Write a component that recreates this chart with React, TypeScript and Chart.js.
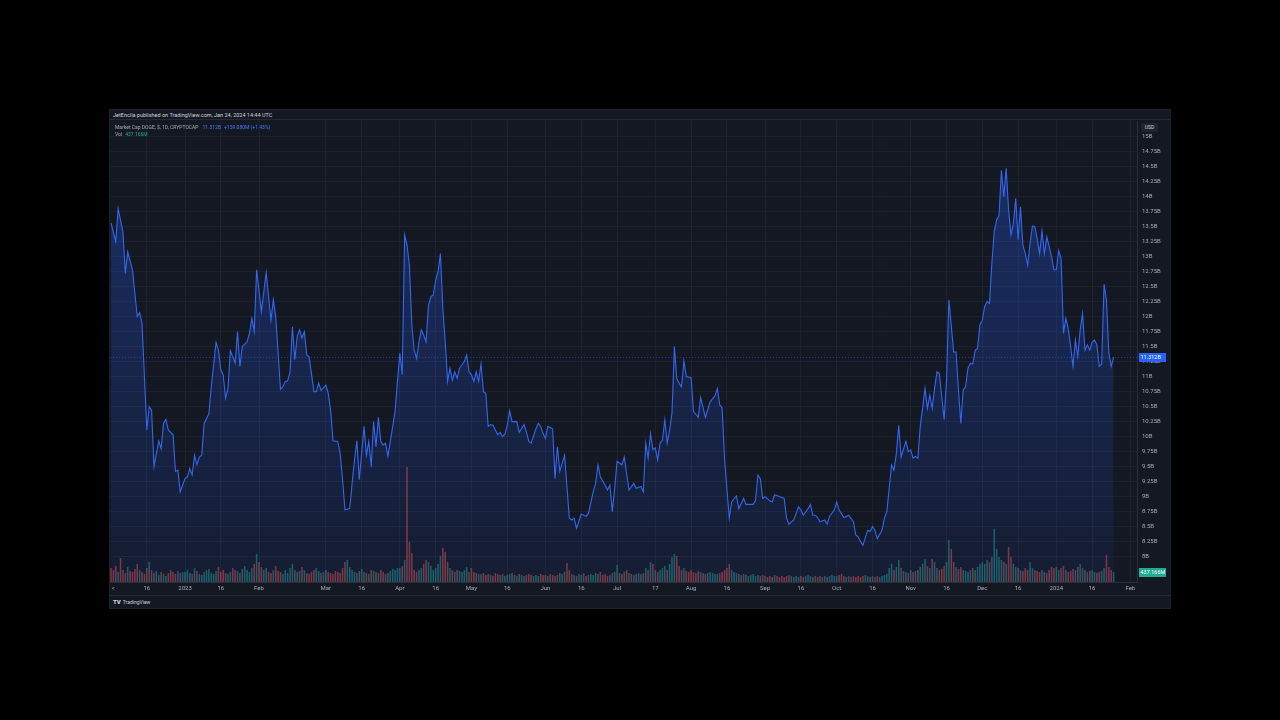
import React, { useEffect, useRef } from "react";
import { Chart, registerables } from "chart.js";

Chart.register(...registerables);

// Day 0 = 2022-12-01 (daily data, DOGE market cap in billions USD)
const pricePoints: [number, number][] = [
  [0, 13.55], [2, 13.24], [3, 13.79], [5, 13.4], [6, 12.71], [7, 13.07], [9, 12.77], [11, 11.99], [12, 12.06], [13, 11.88],
  [15, 10.1], [16, 10.49], [17, 10.43], [18, 9.49], [20, 9.92], [21, 9.79], [22, 10.21], [23, 10.28], [24, 10.1], [26, 10.02],
  [27, 9.41], [28, 9.43], [29, 9.07], [31, 9.29], [32, 9.32], [33, 9.46], [34, 9.35], [35, 9.68], [36, 9.52], [37, 9.65],
  [38, 9.68], [39, 10.21], [41, 10.37], [42, 10.82], [44, 11.56], [45, 11.43], [46, 11.1], [47, 11.02], [48, 10.63], [49, 10.79],
  [50, 11.42], [52, 11.22], [53, 11.74], [54, 11.16], [55, 11.49], [57, 11.57], [58, 11.71], [59, 11.96], [60, 11.74], [61, 12.77],
  [63, 12.07], [65, 12.72], [67, 11.93], [68, 12.27], [69, 11.99], [71, 10.78], [72, 10.82], [73, 10.91], [74, 10.92], [75, 11.07],
  [76, 11.82], [77, 11.27], [78, 11.66], [79, 11.77], [80, 11.63], [81, 11.74], [82, 11.35], [83, 11.32], [85, 10.74], [86, 10.74],
  [87, 10.88], [88, 10.76], [90, 10.85], [91, 10.71], [92, 10.43], [93, 9.92], [95, 9.91], [96, 9.71], [97, 9.27], [98, 8.77],
  [100, 8.79], [101, 9.21], [102, 9.6], [103, 9.92], [104, 9.27], [106, 10.16], [107, 9.68], [108, 9.91], [109, 9.49], [110, 10.24],
  [111, 9.82], [112, 10.31], [113, 9.91], [114, 9.85], [115, 9.88], [116, 9.66], [117, 9.91], [119, 10.41], [120, 10.91], [121, 11.38],
  [122, 11.02], [123, 13.35], [124, 13.18], [125, 12.85], [126, 11.85], [127, 11.43], [128, 11.29], [129, 11.57], [130, 11.77], [131, 11.68],
  [132, 11.57], [133, 12.18], [134, 12.32], [135, 12.35], [136, 12.6], [137, 12.74], [138, 13.04], [139, 12.13], [140, 11.57], [141, 10.91],
  [142, 11.13], [143, 10.93], [144, 11.07], [145, 10.96], [146, 11.13], [148, 11.24], [149, 11.35], [150, 11.07], [151, 11.02], [152, 10.91],
  [153, 11.07], [154, 10.91], [155, 11.2], [156, 10.74], [157, 10.71], [158, 10.16], [159, 10.19], [160, 10.18], [162, 10.02], [163, 10.06],
  [164, 9.99], [165, 10.03], [166, 10.18], [167, 10.42], [168, 10.24], [170, 10.24], [171, 10.06], [173, 10.19], [174, 10.07], [175, 9.91],
  [176, 9.88], [178, 10.12], [179, 10.21], [180, 10.16], [181, 10.04], [182, 9.96], [183, 10.16], [185, 10.12], [186, 9.29], [187, 9.82],
  [188, 9.41], [190, 9.68], [192, 8.63], [193, 8.6], [194, 8.63], [195, 8.46], [197, 8.7], [199, 8.66], [200, 8.71], [202, 9.07],
  [203, 9.21], [204, 9.52], [205, 9.32], [207, 9.18], [208, 9.1], [209, 9.18], [210, 8.74], [211, 9.13], [212, 9.58], [214, 9.52],
  [215, 9.65], [217, 9.1], [219, 9.21], [220, 9.13], [222, 9.16], [223, 9.07], [224, 9.88], [225, 9.63], [226, 10.04], [227, 9.77],
  [228, 9.8], [229, 9.6], [230, 9.88], [231, 9.93], [232, 10.27], [233, 9.88], [234, 10.1], [235, 10.38], [236, 11.49], [237, 10.96],
  [238, 10.88], [239, 10.82], [240, 11.25], [241, 10.99], [243, 10.97], [244, 10.41], [246, 10.31], [247, 10.64], [249, 10.31], [251, 10.57],
  [253, 10.67], [254, 10.79], [255, 10.52], [256, 10.47], [257, 9.63], [259, 8.63], [260, 8.9], [262, 9.0], [263, 8.79], [265, 8.96],
  [266, 8.86], [269, 8.86], [270, 8.92], [271, 9.35], [272, 9.29], [273, 8.96], [274, 8.99], [276, 8.92], [277, 8.9], [278, 9.02],
  [280, 8.99], [282, 8.96], [283, 8.63], [284, 8.53], [286, 8.6], [287, 8.71], [288, 8.82], [289, 8.77], [290, 8.68], [292, 8.79],
  [293, 8.86], [294, 8.68], [295, 8.68], [296, 8.64], [297, 8.57], [299, 8.6], [300, 8.53], [301, 8.66], [303, 8.77], [304, 8.9],
  [305, 8.77], [307, 8.64], [308, 8.66], [309, 8.68], [311, 8.57], [312, 8.35], [313, 8.32], [314, 8.24], [315, 8.18], [317, 8.43],
  [318, 8.41], [319, 8.49], [320, 8.43], [321, 8.29], [323, 8.43], [324, 8.63], [325, 8.74], [327, 9.52], [328, 9.43], [329, 9.71],
  [330, 10.18], [331, 9.65], [333, 9.91], [334, 9.74], [335, 9.77], [336, 9.63], [337, 9.66], [338, 9.63], [339, 10.16], [341, 10.79],
  [342, 10.46], [343, 10.68], [344, 10.46], [345, 10.79], [346, 11.07], [347, 11.04], [349, 10.27], [350, 10.93], [351, 12.27], [353, 11.4],
  [354, 11.4], [355, 10.77], [356, 10.21], [357, 10.77], [358, 10.82], [359, 11.13], [360, 11.21], [361, 11.2], [362, 11.43], [363, 11.46],
  [364, 11.85], [365, 11.93], [366, 12.16], [367, 12.24], [368, 12.21], [369, 12.88], [370, 13.41], [371, 13.6], [372, 13.68], [373, 14.43],
  [374, 13.99], [375, 14.46], [376, 13.77], [377, 13.35], [378, 13.54], [379, 13.96], [380, 13.27], [381, 13.82], [382, 13.18], [383, 13.04],
  [384, 12.85], [385, 13.21], [386, 13.5], [387, 13.49], [388, 13.29], [389, 13.04], [390, 13.42], [391, 13.04], [392, 13.32], [393, 13.16],
  [394, 12.99], [395, 12.77], [396, 12.77], [397, 13.09], [398, 12.96], [399, 11.71], [400, 11.96], [401, 11.79], [402, 11.49], [403, 11.16],
  [404, 11.6], [405, 11.32], [406, 11.77], [407, 12.04], [408, 11.43], [409, 11.52], [410, 11.43], [411, 11.56], [412, 11.6], [413, 11.52],
  [414, 11.16], [415, 11.2], [416, 12.53], [417, 12.27], [418, 11.38], [419, 11.16], [420, 11.312],
];

// Daily volume in millions USD, one array per month
const volDec22 = [610, 520, 700, 440, 1050, 520, 390, 660, 480, 440, 570, 790, 520, 440, 350, 610, 870, 520, 390, 480, 310, 440, 350, 260, 390, 520, 440, 350, 480, 390, 440];
const volJan23 = [440, 520, 390, 350, 610, 480, 350, 310, 440, 520, 570, 390, 350, 480, 660, 440, 520, 390, 350, 440, 610, 520, 480, 390, 570, 700, 520, 440, 610, 790, 1220];
const volFeb23 = [870, 660, 520, 610, 440, 390, 520, 700, 480, 440, 350, 520, 390, 610, 790, 520, 440, 480, 660, 520, 390, 350, 440, 520, 610, 480, 390, 440];
const volMar23 = [520, 440, 390, 350, 480, 440, 390, 610, 870, 960, 660, 520, 440, 390, 480, 570, 440, 390, 350, 520, 480, 440, 390, 520, 440, 350, 390, 480, 570, 520, 610];
const volApr23 = [610, 700, 960, 5030, 1750, 1270, 520, 440, 520, 610, 790, 960, 870, 700, 520, 610, 790, 1140, 1490, 1310, 870, 610, 520, 440, 520, 480, 440, 520, 660, 440];
const volMay23 = [610, 440, 390, 350, 350, 390, 310, 350, 310, 260, 390, 350, 310, 350, 260, 310, 350, 390, 310, 260, 350, 310, 260, 310, 350, 310, 260, 310, 260, 350, 310];
const volJun23 = [310, 260, 350, 310, 260, 310, 390, 350, 440, 830, 520, 350, 310, 260, 350, 310, 390, 260, 310, 350, 310, 390, 350, 440, 310, 350, 260, 310, 390, 440];
const volJul23 = [740, 390, 350, 440, 520, 390, 350, 310, 350, 390, 350, 390, 610, 520, 870, 790, 520, 440, 520, 610, 700, 520, 790, 1090, 1220, 1140, 700, 520, 610, 480, 440];
const volAug23 = [520, 440, 390, 480, 440, 390, 350, 390, 440, 390, 350, 350, 390, 440, 520, 610, 790, 520, 440, 390, 350, 310, 350, 310, 260, 310, 350, 260, 310, 260, 310];
const volSep23 = [260, 220, 260, 220, 310, 260, 220, 260, 220, 260, 310, 260, 220, 260, 220, 260, 220, 260, 310, 260, 220, 260, 220, 260, 220, 260, 220, 260, 310, 260];
const volOct23 = [260, 310, 350, 260, 220, 260, 220, 260, 220, 260, 220, 260, 310, 260, 220, 260, 220, 260, 220, 260, 310, 350, 610, 790, 520, 660, 960, 610, 480, 440, 390];
const volNov23 = [520, 440, 480, 520, 660, 790, 1000, 700, 610, 1000, 870, 610, 520, 570, 700, 870, 1840, 1440, 870, 660, 570, 660, 520, 480, 440, 520, 610, 520, 660, 790];
const volDec23 = [870, 790, 960, 870, 1090, 2320, 1440, 1090, 960, 870, 790, 1530, 1090, 790, 660, 610, 520, 480, 610, 520, 870, 610, 520, 480, 440, 520, 440, 390, 520, 660, 610];
const volJan24 = [660, 520, 610, 700, 520, 440, 480, 570, 520, 660, 790, 610, 520, 440, 480, 520, 440, 390, 440, 480, 610, 1180, 660, 520, 437.166];

const volumes = [
  ...volDec22, ...volJan23, ...volFeb23, ...volMar23, ...volApr23, ...volMay23, ...volJun23,
  ...volJul23, ...volAug23, ...volSep23, ...volOct23, ...volNov23, ...volDec23, ...volJan24,
];

const xTickDays = [1, 15, 31, 46, 62, 90, 105, 121, 136, 151, 166, 182, 197, 212, 228, 243, 258, 274, 289, 304, 319, 335, 350, 365, 380, 396, 411, 427];
const xTickLabels = ["<", "16", "2023", "16", "Feb", "Mar", "16", "Apr", "16", "May", "16", "Jun", "16", "Jul", "17", "Aug", "16", "Sep", "16", "Oct", "16", "Nov", "16", "Dec", "16", "2024", "16", "Feb"];
const yTickValues = [8, 8.25, 8.5, 8.75, 9, 9.25, 9.5, 9.75, 10, 10.25, 10.5, 10.75, 11, 11.25, 11.5, 11.75, 12, 12.25, 12.5, 12.75, 13, 13.25, 13.5, 13.75, 14, 14.25, 14.5, 14.75, 15];

const headerText = "JetEncila published on TradingView.com, Jan 24, 2024 14:44 UTC";
const seriesTitle = "Market Cap DOGE, $, 1D, CRYPTOCAP";
const changeText = "+159.080M (+1.43%)";

const BG = "#141823";
const GRID = "rgba(44,49,62,0.38)";
const TEXT = "#a9acb5";
const FONT = "Roboto, 'DejaVu Sans', sans-serif";

export default function App() {
  const ref = useRef<HTMLCanvasElement>(null);

  useEffect(() => {
    const canvas = ref.current;
    if (!canvas) return;
    const lastPrice = pricePoints[pricePoints.length - 1][1];
    const lastVol = volumes[volumes.length - 1];

    const upAt = (d: number) => {
      for (let i = 1; i < pricePoints.length; i++) {
        if (pricePoints[i][0] >= d) return pricePoints[i][1] >= pricePoints[i - 1][1];
      }
      return true;
    };
    const volColors = volumes.map((_, i) => (upAt(i) ? "rgba(38,166,154,0.5)" : "rgba(239,83,80,0.5)"));

    const overlay = {
      id: "overlay",
      afterDatasetsDraw(chart: any) {
        const { ctx, chartArea, scales } = chart;
        const y = Math.round(scales.y.getPixelForValue(lastPrice)) + 0.5;
        ctx.save();
        ctx.strokeStyle = "rgba(41,98,255,0.5)";
        ctx.lineWidth = 1;
        ctx.setLineDash([1, 2]);
        ctx.beginPath();
        ctx.moveTo(chartArea.left, y);
        ctx.lineTo(chartArea.right, y);
        ctx.stroke();
        ctx.restore();
      },
      afterDraw(chart: any) {
        const { ctx, chartArea, scales } = chart;
        const tag = (y: number, bg: string, text: string) => {
          ctx.save();
          ctx.fillStyle = bg;
          ctx.fillRect(chartArea.right + 2, Math.round(y) - 4, 27, 9);
          ctx.fillStyle = "#ffffff";
          ctx.font = `5.5px ${FONT}`;
          ctx.textBaseline = "middle";
          ctx.textAlign = "left";
          ctx.fillText(text, chartArea.right + 3.5, Math.round(y) + 0.5);
          ctx.restore();
        };
        tag(scales.y.getPixelForValue(lastPrice), "#2962ff", `${lastPrice.toFixed(3)}B`);
        tag(scales.yv.getPixelForValue(lastVol), "#22ab94", `${lastVol.toFixed(3)}M`);
      },
    };

    const chart = new Chart(canvas, {
      type: "line",
      data: {
        datasets: [
          {
            type: "line",
            data: pricePoints.map(([d, v]) => ({ x: d, y: v })),
            xAxisID: "x",
            yAxisID: "y",
            borderColor: "#3467ee",
            borderWidth: 1.1,
            pointRadius: 0,
            tension: 0,
            fill: "start",
            order: 1,
            backgroundColor: (c: any) => {
              const { chart: ch } = c;
              const area = ch.chartArea;
              if (!area) return "rgba(41,98,255,0.2)";
              const g = ch.ctx.createLinearGradient(0, area.top, 0, area.bottom);
              g.addColorStop(0, "rgba(41,98,255,0.32)");
              g.addColorStop(1, "rgba(41,98,255,0.07)");
              return g;
            },
          } as any,
          {
            type: "bar",
            data: volumes.map((v, i) => ({ x: i, y: v })),
            xAxisID: "x",
            yAxisID: "yv",
            backgroundColor: volColors,
            barPercentage: 0.65,
            categoryPercentage: 1,
            order: 2,
          } as any,
        ],
      },
      options: {
        responsive: false,
        animation: false,
        devicePixelRatio: 1,
        layout: { padding: 0 },
        plugins: { legend: { display: false }, tooltip: { enabled: false } },
        scales: {
          x: {
            type: "linear",
            position: "bottom",
            min: -0.42,
            max: 429.8,
            offset: false,
            afterBuildTicks: (s: any) => {
              s.ticks = xTickDays.map((v) => ({ value: v }));
            },
            afterFit: (s: any) => {
              s.height = 13;
              s.paddingLeft = 0;
              s.paddingRight = 0;
            },
            ticks: {
              autoSkip: false,
              maxRotation: 0,
              padding: 3,
              color: TEXT,
              font: { size: 6, family: FONT },
              callback: (_v: any, i: number) => xTickLabels[i],
            },
            grid: {
              offset: false,
              drawTicks: false,
              color: (c: any) => (c.index === 0 ? "rgba(0,0,0,0)" : GRID),
            },
            border: { display: true, color: "#2a2e39" },
          } as any,
          y: {
            type: "linear",
            position: "right",
            min: 7.5667,
            max: 15.25,
            afterBuildTicks: (s: any) => {
              s.ticks = yTickValues.map((v) => ({ value: v }));
            },
            afterFit: (s: any) => {
              s.width = 33;
              s.paddingTop = 0;
              s.paddingBottom = 0;
            },
            ticks: {
              padding: 5,
              color: TEXT,
              font: { size: 6, family: FONT },
              callback: (v: any) => `${+Number(v).toFixed(2)}B`,
            },
            grid: { drawTicks: false, color: GRID },
            border: { display: true, color: "#2a2e39" },
          } as any,
          yv: {
            type: "linear",
            display: false,
            min: 0,
            max: 20150,
          } as any,
        },
      },
      plugins: [overlay],
    });

    return () => chart.destroy();
  }, []);

  const lastPrice = pricePoints[pricePoints.length - 1][1];
  const lastVol = volumes[volumes.length - 1];

  return (
    <div style={{ position: "absolute", left: 0, top: 0, width: 1280, height: 720, background: "#000", overflow: "hidden", fontFamily: FONT }}>
      <div style={{ position: "absolute", left: 110, top: 110, width: 1060, height: 498, background: BG, boxShadow: "0 0 0 1px #1c202a" }}>
        <div style={{ position: "absolute", left: 0, top: 0, width: 1060, height: 10, borderBottom: "1px solid #262a35", color: "#d1d4dc", fontSize: 5.5, lineHeight: "11px", paddingLeft: 3, boxSizing: "border-box", whiteSpace: "nowrap" }}>
          {headerText}
        </div>
        <canvas ref={ref} width={1060} height={474} style={{ position: "absolute", left: 0, top: 11, width: 1060, height: 474 }} />
        <div style={{ position: "absolute", left: 5, top: 14, fontSize: 5, lineHeight: "7px", color: TEXT, whiteSpace: "nowrap" }}>
          <div>
            <span>{seriesTitle}</span>
            <span style={{ color: "#4a7bf7", marginLeft: 4 }}>{`${lastPrice.toFixed(3)}B`}</span>
            <span style={{ color: "#4a7bf7", marginLeft: 3 }}>{changeText}</span>
          </div>
          <div>
            <span>Vol</span>
            <span style={{ color: "#22ab94", marginLeft: 3 }}>{`${lastVol.toFixed(3)}M`}</span>
          </div>
        </div>
        <div style={{ position: "absolute", left: 1031, top: 13, width: 17, height: 9, background: "#1f232e", color: "#d1d4dc", fontSize: 5, lineHeight: "9px", textAlign: "center", borderRadius: 1 }}>
          USD
        </div>
        <div style={{ position: "absolute", left: 0, top: 485, width: 1060, height: 13, borderTop: "1px solid #262a35", boxSizing: "border-box", color: "#d1d4dc", fontSize: 5, lineHeight: "12px", paddingLeft: 3, whiteSpace: "nowrap" }}>
          <span style={{ fontWeight: 900, fontSize: 6, marginRight: 2 }}>TV</span>
          <span>TradingView</span>
        </div>
      </div>
    </div>
  );
}
